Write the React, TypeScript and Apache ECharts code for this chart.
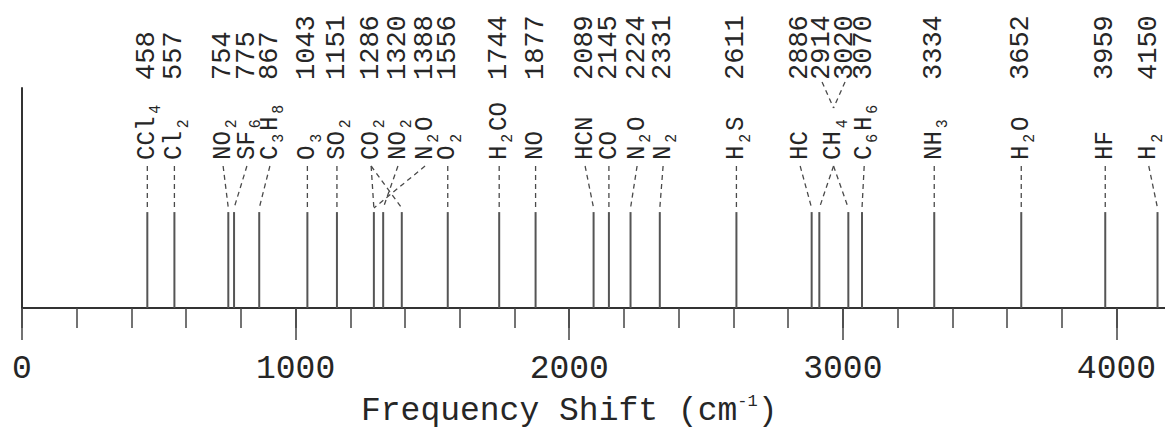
import React, { useEffect, useRef } from "react";
import * as echarts from "echarts";

// Raman shifts (cm^-1) of the drawn lines
const shifts = [458, 557, 754, 775, 867, 1043, 1151, 1286, 1320, 1388, 1556, 1744, 1877, 2089, 2145, 2224, 2331, 2611, 2886, 2914, 3020, 3070, 3334, 3652, 3959, 4150];
// molecule labels and the lines (indices into shifts) each one points to
const molecules = ["CCl₄", "Cl₂", "NO₂", "SF₆", "C₃H₈", "O₃", "SO₂", "CO₂", "NO₂", "N₂O", "O₂", "H₂CO", "NO", "HCN", "CO", "N₂O", "N₂", "H₂S", "HC", "CH₄", "C₆H₆", "NH₃", "H₂O", "HF", "H₂"];
const moleculeLines = [[0], [1], [2], [3], [4], [5], [6], [7, 9], [8], [7], [10], [11], [12], [13], [14], [15], [16], [17], [18], [19, 20], [21], [22], [23], [24], [25]];
// x-axis ticks
const majorTicks = [0, 1000, 2000, 3000, 4000];
const axisTitle = "Frequency Shift (cm⁻¹)";

// layout: label columns (axis units) spread apart to avoid overlap
const labelColumns = [458, 557, 735, 822, 906, 1043, 1151, 1276, 1374, 1473, 1556, 1744, 1877, 2058, 2145, 2248, 2343, 2611, 2844, 2924, 3008, 3078, 3334, 3652, 3959, 4118];
// layout: which column each molecule label uses (fractional = between two columns)
const moleculeColumn = [0, 1, 2, 3, 4, 5, 6, 7, 8, 9, 10, 11, 12, 13, 14, 15, 16, 17, 18, 19.5, 21, 22, 23, 24, 25];

const AXIS_MAX = 4287;
const LINE_LEVEL = 0.436;

const SUBS = "₀₁₂₃₄₅₆₇₈₉";
const SUPS: Record<string, string> = { "⁻": "-", "¹": "1", "²": "2", "³": "3" };

function toRich(text: string, main: string, small: string, smallMap: (c: string) => string | null) {
  let out = "";
  let buf = "";
  let mode = "";
  const flush = () => {
    if (buf) out += "{" + mode + "|" + buf + "}";
    buf = "";
  };
  for (const ch of text) {
    const m = smallMap(ch);
    const nm = m !== null ? small : main;
    if (nm !== mode) {
      flush();
      mode = nm;
    }
    buf += m !== null ? m : ch;
  }
  flush();
  return out;
}

export default function App() {
  const ref = useRef<HTMLDivElement>(null);
  useEffect(() => {
    const chart = echarts.init(ref.current!, undefined, { renderer: "svg" });
    const font = "'Liberation Mono', 'DejaVu Sans Mono', monospace";
    const ink = "#262626";
    chart.setOption({
      animation: false,
      backgroundColor: "#ffffff",
      grid: { left: 22, width: 1173, top: 88, bottom: 127, outerBoundsMode: "none", containLabel: false },
      xAxis: [
        {
          type: "value",
          min: 0,
          max: AXIS_MAX,
          interval: 1000,
          axisLine: { show: true, lineStyle: { color: "#333", width: 2 } },
          axisTick: { show: true, length: 32, lineStyle: { color: "#444", width: 1.5 } },
          splitLine: { show: false },
          axisLabel: {
            fontFamily: font,
            fontSize: 33,
            color: ink,
            margin: 45,
            formatter: (v: number) => (majorTicks.includes(v) ? String(v) : ""),
          },
        },
        {
          type: "value",
          min: 0,
          max: AXIS_MAX,
          interval: 200,
          position: "bottom",
          axisLine: { show: false },
          axisTick: { show: true, length: 20, lineStyle: { color: "#444", width: 1.5 } },
          axisLabel: { show: false },
          splitLine: { show: false },
        },
      ],
      yAxis: {
        type: "value",
        min: 0,
        max: 1,
        axisLine: { show: true, lineStyle: { color: "#333", width: 2 } },
        axisTick: { show: false },
        axisLabel: { show: false },
        splitLine: { show: false },
      },
      series: [
        {
          type: "custom",
          xAxisIndex: 0,
          data: shifts.map((v) => [v]),
          renderItem: (params: any, api: any) => {
            const v = api.value(0);
            const p0 = api.coord([v, 0]);
            const p1 = api.coord([v, LINE_LEVEL]);
            return {
              type: "line",
              shape: { x1: p0[0], y1: p0[1], x2: p1[0], y2: p1[1] },
              style: { stroke: "#555", lineWidth: 2 },
            };
          },
        },
      ],
    });

    const px = (v: number) => chart.convertToPixel({ xAxisIndex: 0 }, v) as number;
    const lineTop = chart.convertToPixel({ yAxisIndex: 0 }, LINE_LEVEL) as number;
    const dash = { stroke: "#4a4a4a", lineWidth: 1.3, lineDash: [5, 4] };
    const leaderTop = 166;
    const leaderBottom = lineTop - 4;
    const numBottom = 80;
    const molBottom = 160;
    const elements: any[] = [];

    const cols = labelColumns.map(px);
    const colAt = (c: number) => {
      const a = Math.floor(c);
      const f = c - a;
      return f === 0 ? cols[a] : cols[a] * (1 - f) + cols[a + 1] * f;
    };

    shifts.forEach((s, i) => {
      elements.push({
        type: "text",
        x: cols[i],
        y: numBottom,
        rotation: Math.PI / 2,
        style: { text: String(s), fontFamily: font, fontSize: 27, fill: ink, align: "left", verticalAlign: "middle" },
      });
    });

    const molRich = {
      m: { fontFamily: font, fontSize: 26, fill: ink },
      s: { fontFamily: font, fontSize: 16, fill: ink, padding: [18, 3, 0, 3] },
    };

    molecules.forEach((m, j) => {
      const lines = moleculeLines[j];
      const c = moleculeColumn[j];
      const cx = colAt(c);
      elements.push({
        type: "text",
        x: cx,
        y: molBottom,
        rotation: Math.PI / 2,
        scaleX: 0.93,
        style: {
          text: toRich(m, "m", "s", (ch) => {
            const k = SUBS.indexOf(ch);
            return k >= 0 ? String(k) : null;
          }),
          rich: molRich,
          align: "left",
          verticalAlign: "middle",
        },
      });
      lines.forEach((k) => {
        elements.push({
          type: "line",
          shape: { x1: cx, y1: leaderTop, x2: px(shifts[k]), y2: leaderBottom },
          style: dash,
        });
      });
      if (c % 1 !== 0) {
        lines.forEach((k) => {
          elements.push({
            type: "line",
            shape: { x1: cols[k], y1: numBottom + 2, x2: cx, y2: 108 },
            style: dash,
          });
        });
      }
    });

    elements.push({
      type: "text",
      x: px(2000),
      y: 411,
      style: {
        text: toRich(axisTitle, "t", "p", (ch) => (ch in SUPS ? SUPS[ch] : null)),
        rich: {
          t: { fontFamily: font, fontSize: 33, fill: ink },
          p: { fontFamily: font, fontSize: 17, fill: ink, padding: [0, 0, 20, 0] },
        },
        align: "center",
        verticalAlign: "middle",
      },
    });

    chart.setOption({ graphic: elements });
    return () => chart.dispose();
  }, []);
  return (
    <div
      ref={ref}
      style={{ position: "absolute", left: 0, top: 0, width: 1165, height: 435, background: "#fff" }}
    />
  );
}
